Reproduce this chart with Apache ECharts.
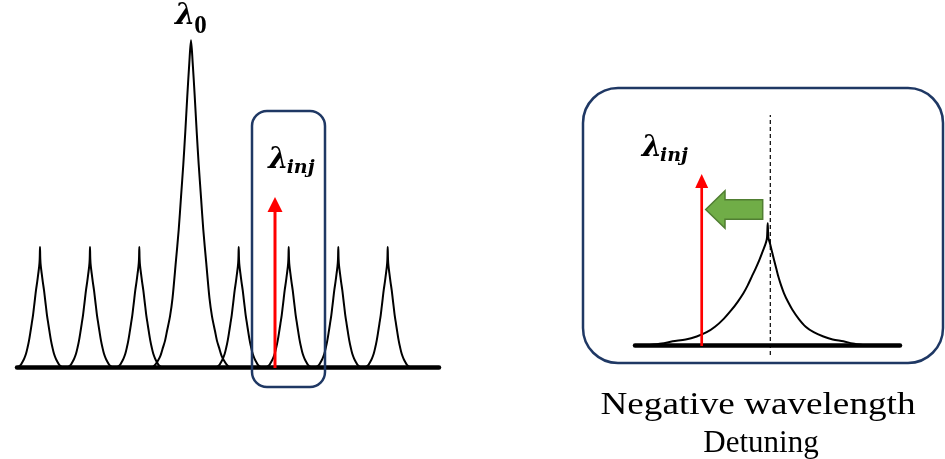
<!DOCTYPE html>
<html><head><meta charset="utf-8">
<script src="https://cdn.jsdelivr.net/npm/echarts@6/dist/echarts.min.js"></script>
<style>html,body{margin:0;padding:0;background:#fff}#c{width:945px;height:459px}</style>
</head><body><div id="c"></div>
<script>
// ---------- Left panel: longitudinal mode comb (arbitrary units) ----------
const modeCenters = [23, 73, 122.3, 174, 221.7, 271.7, 321.3, 370.7];
const modeHeights = [120, 120, 120, 326.7, 120, 120, 120, 120];
const modeShapes  = ['side', 'side', 'side', 'main', 'side', 'side', 'side', 'side'];
// peak profiles: [offset from centre, fraction of peak height]
const sideProfile = [[0,1],[0.3,0.9],[0.8,0.84],[1.7,0.78],[2.8,0.71],[4,0.64],[5,0.57],[6,0.5],[7,0.43],[8.3,0.36],[9.6,0.29],[11,0.22],[12.5,0.16],[14,0.11],[15.8,0.07],[17.7,0.04],[19.5,0.015],[22,0]];
const mainProfile = [[0,1],[1.7,0.93],[3.7,0.83],[5.7,0.72],[7.7,0.62],[10,0.52],[12.3,0.42],[15.2,0.32],[18.5,0.21],[21,0.155],[24,0.11],[26,0.08],[28,0.06],[30.5,0.035],[33,0.02],[35.5,0.008],[38,0]];
const leftInjection = [[258, 170]];             // [wavelength, arrow height]
const leftWindow = [[235, -20, 308, 256]];        // [x0, y0, x1, y1]
const leftLabels = [[158, 350.3, 'λ', '0'], [251.3, 207, 'λ', 'inj']];

// ---------- Right panel: zoom on one mode ----------
const insetPeak = [[132.7, 121.7]];              // [centre, height]
const insetLeftProfile  = [[0,1],[0.7,0.88],[2,0.835],[5,0.77],[8.3,0.70],[12,0.63],[16,0.56],[20,0.49],[24.3,0.425],[30,0.355],[36,0.29],[44,0.215],[52.7,0.15],[61,0.105],[71,0.07],[82,0.045],[95,0.03],[106,0.012],[118,0]];
const insetRightProfile = [[0,1],[0.7,0.88],[2.3,0.835],[4.2,0.77],[6.3,0.70],[8.5,0.63],[10.7,0.56],[13.4,0.49],[16.3,0.425],[20.3,0.355],[24.7,0.29],[31,0.215],[38,0.15],[46,0.105],[55.7,0.07],[65,0.045],[75.7,0.03],[85,0.012],[95,0]];
const insetCavityLine = [[135.3, -10], [135.3, 230]];
const insetInjection = [[66.7, 171]];
const insetShift = [[70.7, 127.7, 135.5]];        // [arrow tip, arrow tail, level]
const insetWindow = [[-52, -18, 308, 257]];
const insetLabels = [[6.7, 196.7, 'λ', 'inj']];
const captionLines = ['Negative wavelength', 'Detuning'];

const chart = echarts.init(document.getElementById('c'), null, {renderer: 'canvas'});
const measureCtx = document.createElement('canvas').getContext('2d');
function textWidth(font, s) { measureCtx.font = font; return measureCtx.measureText(s).width; }

function peakPoints(c, h, leftProf, rightProf) {
  const pts = [];
  for (let i = leftProf.length - 1; i >= 0; i--) pts.push([c - leftProf[i][0], h * leftProf[i][1]]);
  for (let i = 1; i < rightProf.length; i++) pts.push([c + rightProf[i][0], h * rightProf[i][1]]);
  return pts;
}

const peakLine = {color: '#000', width: 2, join: 'round', cap: 'round'};
const series = [];
modeCenters.forEach((c, i) => {
  const prof = modeShapes[i] === 'main' ? mainProfile : sideProfile;
  series.push({
    type: 'line', xAxisIndex: 0, yAxisIndex: 0, data: peakPoints(c, modeHeights[i], prof, prof),
    showSymbol: false, smooth: 0.3, silent: true, lineStyle: peakLine, z: 3
  });
});
series.push({
  type: 'line', xAxisIndex: 1, yAxisIndex: 1,
  data: peakPoints(insetPeak[0][0], insetPeak[0][1], insetLeftProfile, insetRightProfile),
  showSymbol: false, smooth: 0.3, silent: true, lineStyle: peakLine, z: 3
});
series.push({
  type: 'line', xAxisIndex: 1, yAxisIndex: 1, data: insetCavityLine, showSymbol: false, silent: true,
  lineStyle: {color: '#000', width: 1.2, type: [4, 3]}, z: 2
});

function boxSeries(axis, data, r) {
  return {
    type: 'custom', xAxisIndex: axis, yAxisIndex: axis, data: data, silent: true, clip: false, z: 5,
    renderItem: (params, api) => {
      const p0 = api.coord([api.value(0), api.value(3)]);
      const p1 = api.coord([api.value(2), api.value(1)]);
      return {type: 'rect', shape: {x: p0[0], y: p0[1], width: p1[0] - p0[0], height: p1[1] - p0[1], r: r},
        style: {fill: 'none', stroke: '#1f3864', lineWidth: 2.5}};
    }
  };
}
series.push(boxSeries(0, leftWindow, 15));
series.push(boxSeries(1, insetWindow, 35));

function arrowSeries(axis, data, lw, headW, headH) {
  return {
    type: 'custom', xAxisIndex: axis, yAxisIndex: axis, data: data, silent: true, clip: false, z: 6,
    renderItem: (params, api) => {
      const b = api.coord([api.value(0), 0]);
      const t = api.coord([api.value(0), api.value(1)]);
      return {type: 'group', children: [
        {type: 'line', shape: {x1: b[0], y1: b[1] + 1, x2: t[0], y2: t[1] + headH - 1}, style: {stroke: '#ff0000', lineWidth: lw}},
        {type: 'polygon', shape: {points: [[t[0], t[1]], [t[0] - headW / 2, t[1] + headH], [t[0] + headW / 2, t[1] + headH]]}, style: {fill: '#ff0000'}}
      ]};
    }
  };
}
series.push(arrowSeries(0, leftInjection, 3, 15, 15));
series.push(arrowSeries(1, insetInjection, 2.7, 13, 14));

series.push({
  type: 'custom', xAxisIndex: 1, yAxisIndex: 1, data: insetShift, silent: true, clip: false, z: 6,
  renderItem: (params, api) => {
    const tip = api.coord([api.value(0), api.value(2)]);
    const tail = api.coord([api.value(1), api.value(2)]);
    const hl = 19.3, hh = 18.8, bh = 9.7, y = tip[1];
    return {type: 'polygon', shape: {points: [
      [tip[0], y], [tip[0] + hl, y - hh], [tip[0] + hl, y - bh], [tail[0], y - bh],
      [tail[0], y + bh], [tip[0] + hl, y + bh], [tip[0] + hl, y + hh]]},
      style: {fill: '#70ad47', stroke: '#507e32', lineWidth: 1.5}};
  }
});

const lamFont = {family: 'DejaVu Serif', size: 29};
function labelSeries(axis, data) {
  return {
    type: 'custom', xAxisIndex: axis, yAxisIndex: axis, data: data.map(d => [d[0], d[1]]), silent: true, clip: false, z: 7,
    renderItem: (params, api) => {
      const p = api.coord([api.value(0), api.value(1)]);
      const d = data[params.dataIndex];
      const isDigit = d[3] === '0';
      const w = textWidth('italic bold ' + lamFont.size + 'px "' + lamFont.family + '"', d[2]);
      return {type: 'group', children: [
        {type: 'text', x: p[0], y: p[1], style: {text: d[2], fontFamily: lamFont.family, fontWeight: 'bold', fontStyle: 'italic', fontSize: lamFont.size, fill: '#000', align: 'left', verticalAlign: 'middle'}},
        {type: 'text', x: p[0] + w - (isDigit ? 1 : 2), y: p[1] + (isDigit ? 10 : 8),
          style: {text: d[3], fontFamily: isDigit ? 'Liberation Serif' : 'DejaVu Serif', fontWeight: 'bold', fontStyle: isDigit ? 'normal' : 'italic',
            fontSize: isDigit ? 25 : 19, fill: '#000', align: 'left', verticalAlign: 'middle'}}
      ]};
    }
  };
}
series.push(labelSeries(0, leftLabels));
series.push(labelSeries(1, insetLabels));

const hiddenY = {type: 'value', show: true, axisLine: {show: false}, axisTick: {show: false}, axisLabel: {show: false}, splitLine: {show: false}};
const baseX = {type: 'value', axisLine: {show: true, onZero: true, lineStyle: {color: '#000', width: 4.5}}, axisTick: {show: false}, axisLabel: {show: false}, splitLine: {show: false}};

chart.setOption({
  animation: false,
  backgroundColor: '#fff',
  grid: [
    {left: 17, width: 422, top: 7, bottom: 62},
    {left: 635, width: 265, top: 75, bottom: 84}
  ],
  xAxis: [
    Object.assign({}, baseX, {gridIndex: 0, min: 0, max: 422}),
    Object.assign({}, baseX, {gridIndex: 1, min: 0, max: 265})
  ],
  yAxis: [
    Object.assign({}, hiddenY, {gridIndex: 0, min: -30, max: 360}),
    Object.assign({}, hiddenY, {gridIndex: 1, min: -30, max: 270})
  ],
  graphic: [
    {type: 'text', x: 758, y: 406, scaleX: 1.2, style: {text: captionLines[0], fontFamily: 'Liberation Serif', fontSize: 31, fill: '#000', align: 'center', verticalAlign: 'middle'}},
    {type: 'text', x: 761, y: 444, style: {text: captionLines[1], fontFamily: 'Liberation Serif', fontSize: 31, fill: '#000', align: 'center', verticalAlign: 'middle'}}
  ],
  series: series
});
</script>
</body></html>
